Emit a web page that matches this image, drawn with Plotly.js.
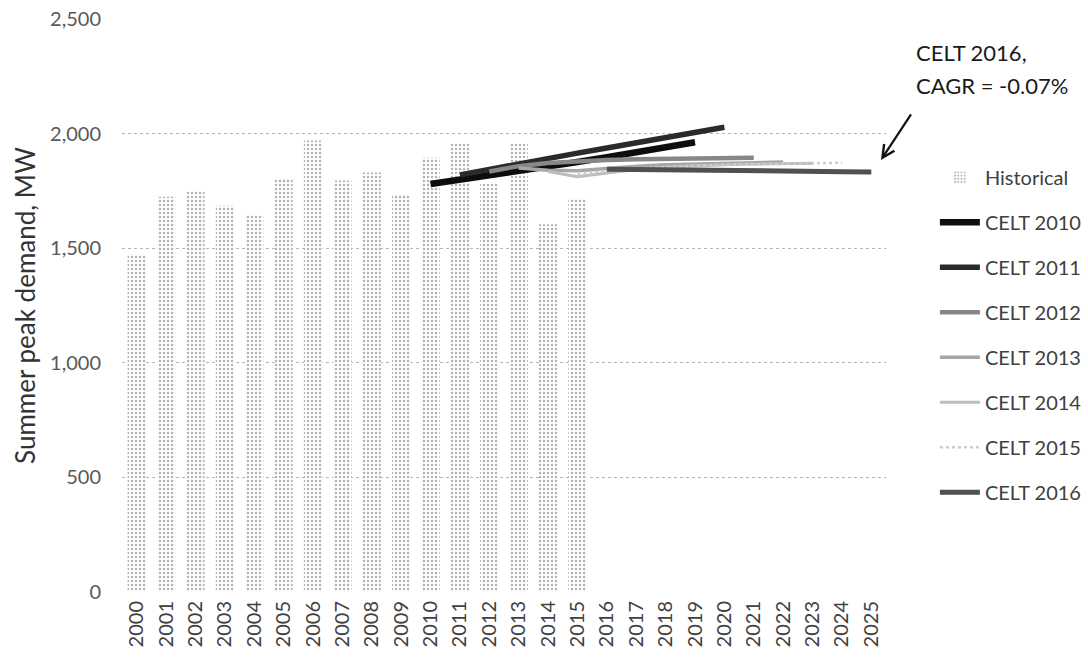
<!DOCTYPE html>
<html>
<head>
<meta charset="utf-8">
<script src="https://cdn.plot.ly/plotly-3.0.1.min.js"></script>
<style>html,body{margin:0;padding:0;background:#fff;}#chart{width:1088px;height:658px;}</style>
</head>
<body>
<div id="chart"></div>
<script>
const years = ['2000','2001','2002','2003','2004','2005','2006','2007','2008','2009','2010','2011','2012','2013','2014','2015','2016','2017','2018','2019','2020','2021','2022','2023','2024','2025'];
const histYears = ['2000','2001','2002','2003','2004','2005','2006','2007','2008','2009','2010','2011','2012','2013','2014','2015'];
const historical = [1475, 1725, 1750, 1685, 1645, 1805, 1970, 1795, 1830, 1735, 1895, 1955, 1780, 1955, 1605, 1718];

const celt2010Years = ['2010','2011','2012','2013','2014','2015','2016','2017','2018','2019'];
const celt2010 = [1780, 1798, 1817, 1836, 1856, 1876, 1897, 1918, 1940, 1962];
const celt2011Years = ['2011','2012','2013','2014','2015','2016','2017','2018','2019','2020'];
const celt2011 = [1820, 1845, 1870, 1893, 1915, 1937, 1960, 1983, 2006, 2028];
const celt2012Years = ['2012','2013','2014','2015','2016','2017','2018','2019','2020','2021'];
const celt2012 = [1835, 1858, 1872, 1880, 1885, 1888, 1890, 1892, 1894, 1895];
const celt2013Years = ['2013','2014','2015','2016','2017','2018','2019','2020','2021','2022'];
const celt2013 = [1850, 1840, 1838, 1848, 1858, 1864, 1868, 1871, 1873, 1876];
const celt2014Years = ['2014','2015','2016','2017','2018','2019','2020','2021','2022','2023'];
const celt2014 = [1835, 1812, 1828, 1843, 1853, 1860, 1864, 1867, 1869, 1871];
const celt2015Years = ['2015','2016','2017','2018','2019','2020','2021','2022','2023','2024'];
const celt2015 = [1822, 1838, 1848, 1855, 1860, 1864, 1867, 1869, 1871, 1873];
const celt2016Years = ['2016','2017','2018','2019','2020','2021','2022','2023','2024','2025'];
const celt2016 = [1845, 1843, 1841, 1839, 1838, 1837, 1836, 1835, 1834, 1833];

const yTicks = [0, 500, 1000, 1500, 2000, 2500];
const yTickText = ['0', '500', '1,000', '1,500', '2,000', '2,500'];

const FONT = 'Lato, "Open Sans", sans-serif';

function line(name, xs, ys, color, width, dash) {
  return {type: 'scatter', mode: 'lines', name: name, x: xs, y: ys, legendgroup: name,
          line: {color: color, width: width, dash: dash || 'solid'}, hoverinfo: 'x+y+name'};
}

const traces = [
  {type: 'bar', name: 'Historical', x: histYears, y: historical, legendgroup: 'Historical',
   marker: {color: '#ffffff', line: {width: 0},
            pattern: {shape: '.', fgcolor: '#b3b3b3', bgcolor: '#ffffff', size: 4, solidity: 0.3}}},
  line('CELT 2010', celt2010Years, celt2010, '#0d0d0d', 6.5),
  line('CELT 2011', celt2011Years, celt2011, '#2a2a2a', 5.5),
  line('CELT 2012', celt2012Years, celt2012, '#878787', 4.5),
  line('CELT 2013', celt2013Years, celt2013, '#a6a6a6', 3.5),
  line('CELT 2014', celt2014Years, celt2014, '#bcbcbc', 3),
  line('CELT 2015', celt2015Years, celt2015, '#cccccc', 2.5, 'dot'),
  line('CELT 2016', celt2016Years, celt2016, '#505050', 5)
];

const layout = {
  width: 1088, height: 658,
  margin: {l: 122, r: 202, t: 19, b: 66, autoexpand: false},
  paper_bgcolor: '#ffffff', plot_bgcolor: '#ffffff',
  font: {family: FONT, color: '#595959', size: 20},
  bargap: 0.38,
  showlegend: true,
  legend: {x: 1.064, y: 0.758, xanchor: 'left', yanchor: 'top',
           font: {family: FONT, size: 20, color: '#404040'},
           tracegroupgap: 16, itemwidth: 40, bgcolor: 'rgba(0,0,0,0)'},
  xaxis: {type: 'category', categoryorder: 'array', categoryarray: years,
          range: [-0.5, 25.5], tickangle: -90, showgrid: false, zeroline: false,
          showline: false, ticks: '', ticklabelstandoff: 4,
          tickfont: {family: FONT, size: 20, color: '#404040'},
          fixedrange: true},
  yaxis: {range: [0, 2500], tickvals: yTicks, ticktext: yTickText, showgrid: true,
          gridcolor: '#b5b5b5', griddash: 'dot', gridwidth: 1, zeroline: false,
          showline: false, ticks: '', ticklabelstandoff: 20,
          tickfont: {family: FONT, size: 20, color: '#595959'},
          title: {text: 'Summer peak demand, MW', font: {family: FONT, size: 26, color: '#333333'}, standoff: 6},
          fixedrange: true},
  annotations: [
    {xref: 'paper', yref: 'paper', x: 1.0366, y: 0.9407, xanchor: 'left', yanchor: 'middle', align: 'left',
     showarrow: false, text: 'CELT 2016,', font: {family: FONT, size: 22, color: '#1a1a1a'}},
    {xref: 'paper', yref: 'paper', x: 1.0366, y: 0.8831, xanchor: 'left', yanchor: 'middle', align: 'left',
     showarrow: false, text: 'CAGR = -0.07%', font: {family: FONT, size: 22, color: '#1a1a1a'}},
    {xref: 'x', yref: 'y', x: 25.33, y: 1885, ax: 31, ay: -47, text: '', showarrow: true,
     arrowhead: 5, arrowsize: 1.1, arrowwidth: 2.2, arrowcolor: '#111111'}
  ]
};

Plotly.newPlot('chart', traces, layout, {displayModeBar: false, staticPlot: true});
</script>
</body>
</html>
